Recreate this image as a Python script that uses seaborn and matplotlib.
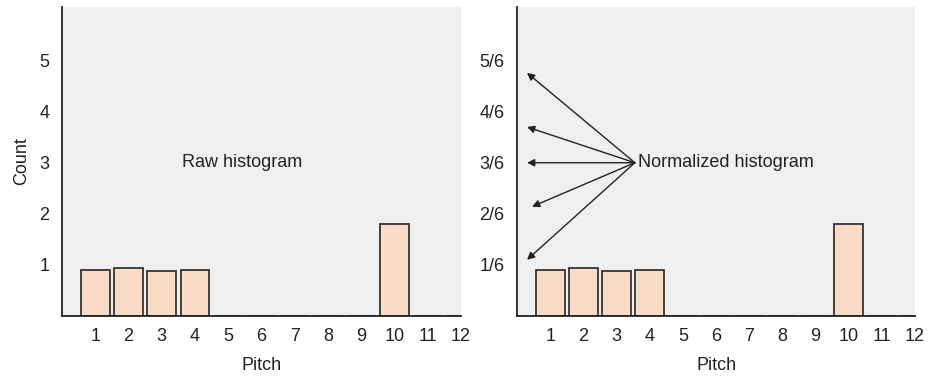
import numpy as np
import pandas as pd
import matplotlib
matplotlib.use("Agg")
import matplotlib.pyplot as plt
import seaborn as sns

# values
pitch = [1, 2, 3, 4, 5, 6, 7, 8, 9, 10, 11, 12]
count = [0.9, 0.93, 0.89, 0.9, 0, 0, 0, 0, 0, 1.8, 0, 0]
raw_ticks = [1, 2, 3, 4, 5]
norm_labels = ["1/6", "2/6", "3/6", "4/6", "5/6"]
# arrow heads (in count units) for the normalized panel
arrow_x = [0.3, 0.3, 0.3, 0.45, 0.3]
arrow_y = [4.76, 3.7, 3.0, 2.14, 1.1]

sns.set_style("white", {"axes.facecolor": "#efeff1", "axes.edgecolor": "#222222"})
plt.rcParams["font.family"] = ["Liberation Sans", "DejaVu Sans"]
plt.rcParams["font.size"] = 13

df = pd.DataFrame({"Pitch": pitch, "Count": count})
df["Norm"] = df["Count"] / 6

fig = plt.figure(figsize=(9.3, 3.76), dpi=100)
ax1 = fig.add_axes([0.0667, 0.1596, 0.429, 0.822])
ax2 = fig.add_axes([0.556, 0.1596, 0.428, 0.822])

bar_kw = dict(native_scale=True, width=0.87, color="#f9dbc6", edgecolor="#333333",
              linewidth=1.3, saturation=1)

sns.barplot(data=df, x="Pitch", y="Count", ax=ax1, **bar_kw)
ax1.set_ylim(0, 6.05)
ax1.set_yticks(raw_ticks)
ax1.text(3.6, 3, "Raw histogram", va="center", ha="left", color="#222222")

sns.barplot(data=df, x="Pitch", y="Norm", ax=ax2, **bar_kw)
ax2.set_ylim(0, 6.05 / 6)
ax2.set_yticks([k / 6 for k in raw_ticks])
ax2.set_yticklabels(norm_labels)
ax2.set_ylabel("")
ax2.text(3.65, 3 / 6, "Normalized histogram", va="center", ha="left", color="#222222")
for xa, ya in zip(arrow_x, arrow_y):
    ax2.annotate("", xy=(xa, ya / 6), xytext=(3.55, 3 / 6),
                 arrowprops=dict(arrowstyle="-|>", color="#222222", lw=1.0,
                                 mutation_scale=11, shrinkA=0, shrinkB=0))

for ax in (ax1, ax2):
    ax.set_xlim(0, 12)
    ax.set_xticks(pitch)
    ax.set_xticklabels([str(p) for p in pitch])
    ax.tick_params(length=0, pad=9, colors="#222222")
    ax.set_xlabel("Pitch", labelpad=8, color="#222222")
    for s in ["top", "right"]:
        ax.spines[s].set_visible(False)
    ax.spines["left"].set_linewidth(1.3)
    ax.spines["bottom"].set_linewidth(1.3)
ax1.set_ylabel("Count", labelpad=7, color="#222222")

fig.savefig("out.png", dpi=100)
